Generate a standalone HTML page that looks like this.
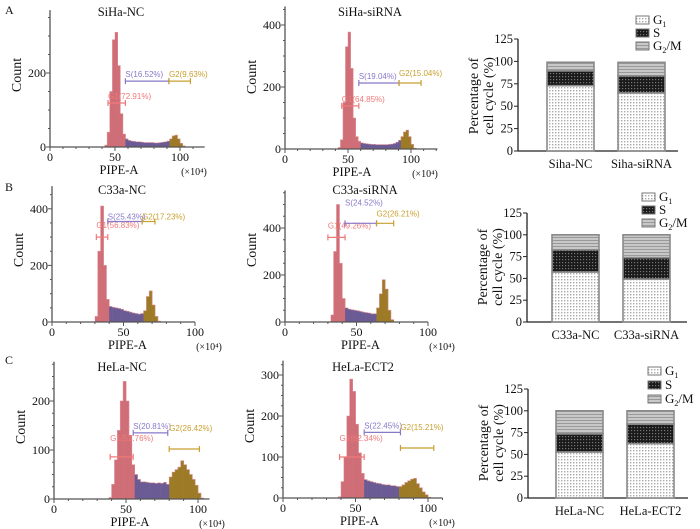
<!DOCTYPE html>
<html><head><meta charset="utf-8">
<style>
html,body{margin:0;padding:0;background:#fff;}
svg{display:block;}
text{font-family:"Liberation Serif",serif;fill:#111;}
.g{font-family:"Liberation Sans",sans-serif;font-size:8px;}
</style></head>
<body>
<svg id="fig" width="700" height="529" viewBox="0 0 700 529" xmlns="http://www.w3.org/2000/svg">
<defs>
<pattern id="patG1" width="3" height="3" patternUnits="userSpaceOnUse"><rect width="3" height="3" fill="#fff"/><rect x="0" y="0" width="1.4" height="1.4" fill="#aaa"/></pattern>
<pattern id="patS" width="3" height="3" patternUnits="userSpaceOnUse"><rect width="3" height="3" fill="#1a1a1a"/><rect x="1" y="1" width="1.2" height="1.2" fill="#777"/></pattern>
<pattern id="patG2" width="3" height="3" patternUnits="userSpaceOnUse"><rect width="3" height="3" fill="#c8c8c8"/><rect y="0" width="3" height="1" fill="#999"/></pattern>
</defs>
</svg>
<script>
// ---------- histogram data (bin width 2, x in ×10^4) ----------
const a1Start = 42;
const a1Counts = [5,40,150,290,310,220,90,35,22,18,16,15,14,14,13,12,12,12,12,11,11,12,13,14,16,22,30,32,22,10,3];
const a2Start = 42;
const a2Counts = [5,30,150,330,377,260,100,40,25,20,18,17,16,15,15,14,14,14,14,14,15,16,18,22,28,40,55,61,40,15,3];
const b1Start = 30;
const b1Counts = [20,250,410,200,80,55,52,50,48,45,40,38,35,32,30,28,30,40,90,110,60,20,3];
const b2Start = 32;
const b2Counts = [30,300,500,250,100,60,55,52,50,48,45,42,40,38,35,35,60,120,180,140,50,10];
const c1Start = 38;
const c1Counts = [3,30,80,140,200,240,200,130,70,50,40,35,35,34,33,33,32,33,32,34,30,45,55,60,65,78,70,60,50,40,28,12,2];
const c2Start = 38;
const c2Counts = [3,40,100,200,290,260,180,110,60,45,42,40,38,36,35,33,32,32,30,30,28,28,32,38,42,46,48,35,25,15,8,2];
// ---------- bar chart data (%) ----------
const barCatsA = ['Siha-NC','Siha-siRNA'];
const g1A = [72.91,64.85]; const sA = [16.52,19.04]; const g2A = [9.63,15.04];
const barCatsB = ['C33a-NC','C33a-siRNA'];
const g1B = [57.34,49.26]; const sB = [25.43,24.52]; const g2B = [17.23,26.21];
const barCatsC = ['HeLa-NC','HeLa-ECT2'];
const g1C = [52.76,62.34]; const sC = [20.81,22.45]; const g2C = [26.42,15.21];
const barTicks = [0,25,50,75,100,125];

const NS='http://www.w3.org/2000/svg';
const svg=document.getElementById('fig');
function mk(tag,attrs,parent,txt){const e=document.createElementNS(NS,tag);for(const k in attrs)e.setAttribute(k,attrs[k]);if(txt!==undefined)e.textContent=txt;(parent||svg).appendChild(e);return e;}

const COL={G1:{f:'#cf6e77',s:'#f08a8a',t:'#f07878'},S:{f:'#6b5b95',s:'#8a7ab8',t:'#8878c8'},G2:{f:'#9c7a26',s:'#c8a040',t:'#c8a030'}};

function hist(cfg,start,counts){
  const g=mk('g',{});
  
  
  const X=v=>cfg.ox+v*cfg.kx, Y=c=>cfg.oy-c*cfg.ky;
  const region=v=>v<cfg.b1?'G1':(v<cfg.b2?'S':'G2');
  counts.forEach((c,i)=>{
    const v=start+i*2;const r=region(v);
    const rc=mk('rect',{x:X(v),y:Y(c),width:2*cfg.kx+0.3,height:cfg.oy-Y(c),fill:COL[r].f},g);
    
    
  });
  let d='';counts.forEach((c,i)=>{const v=start+i*2;d+=(i?'L':'M')+X(v)+','+Y(c)+'L'+X(v+2)+','+Y(c);});
  mk('path',{d:d,fill:'none',stroke:'#e08890','stroke-width':0.7,opacity:0.7},g);
  const top=cfg.oy-cfg.ymax*cfg.ky;
  mk('line',{x1:cfg.ox,y1:top,x2:cfg.ox,y2:cfg.oy,stroke:'#555','stroke-width':1.3},g);
  mk('line',{x1:cfg.ox,y1:cfg.oy,x2:X(cfg.xmax),y2:cfg.oy,stroke:'#555','stroke-width':1.3},g);
  for(let v=0;v<=cfg.xmax;v+=10){mk('line',{x1:X(v),y1:cfg.oy,x2:X(v),y2:cfg.oy+(v%50?2:4),stroke:'#555'},g);}
  [0,50,100].forEach(v=>{const t=mk('text',{x:X(v),y:cfg.oy+14,'font-size':12,'text-anchor':'middle'},g,String(v));});
  for(let c=0;c<=cfg.ymax;c+=cfg.minor){mk('line',{x1:cfg.ox,y1:Y(c),x2:cfg.ox-(c%cfg.major?2:4),y2:Y(c),stroke:'#555'},g);}
  for(let c=0;c<=cfg.ymax;c+=cfg.major){const t=mk('text',{x:cfg.ox-4,y:Y(c)+4,'font-size':12,'text-anchor':'end'},g,String(c));}
  let t=mk('text',{x:cfg.tx,y:cfg.ty,'font-size':12.5,'text-anchor':'middle'},g,cfg.title);
  
  t=mk('text',{x:0,y:0,'font-size':14,'text-anchor':'middle',transform:'translate('+(cfg.ox-29)+','+(cfg.oy-72)+') rotate(-90)'},g,'Count');
  
  t=mk('text',{x:X(50)+4,y:cfg.oy+27,'font-size':12.5,'text-anchor':'middle'},g,'PIPE-A');
  
  t=mk('text',{x:X(100)+14,y:cfg.oy+28,'font-size':10,'text-anchor':'middle'},g,'(×10⁴)');
  
  cfg.gates.forEach(gt=>{
    const c=COL[gt.k].t, y=Y(gt.y), x1=X(gt.x1), x2=X(gt.x2);
    const gg=mk('g',{},g);
    
    
    mk('line',{x1:x1,y1:y,x2:x2,y2:y,stroke:c,'stroke-width':1.2},gg);
    mk('line',{x1:x1,y1:y-3,x2:x1,y2:y+3,stroke:c,'stroke-width':1.2},gg);
    mk('line',{x1:x2,y1:y-3,x2:x2,y2:y+3,stroke:c,'stroke-width':1.2},gg);
    mk('text',{x:x1+(gt.dx||0),y:y-4-(gt.dy||0),'class':'g',style:'fill:'+c},gg,gt.label);
  });
}

hist({name:'histogram-siha-nc',title:'SiHa-NC',tx:121,ty:16,ox:50,oy:147,kx:1.3,ky:0.37,ymax:370,xmax:119,major:200,minor:50,b1:58,b2:92,
  gates:[{k:'G1',y:119,x1:44.6,x2:58,label:'G1(72.91%)'},{k:'S',y:178,x1:58,x2:91.5,label:'S(16.52%)'},{k:'G2',y:178,x1:91.5,x2:108,label:'G2(9.63%)'}]},a1Start,a1Counts);
hist({name:'histogram-siha-sirna',title:'SiHa-siRNA',tx:370,ty:16,ox:285,oy:149,kx:1.26,ky:0.31,ymax:460,xmax:121,major:200,minor:50,b1:58.6,b2:90.5,
  gates:[{k:'G1',y:139,x1:45,x2:58.6,label:'G1(64.85%)'},{k:'S',y:213,x1:58.6,x2:90.5,label:'S(19.04%)'},{k:'G2',y:213,x1:90.5,x2:108,label:'G2(15.04%)',dy:3}]},a2Start,a2Counts);
hist({name:'histogram-c33a-nc',title:'C33a-NC',tx:122,ty:194,ox:52,oy:322,kx:1.43,ky:0.283,ymax:480,xmax:100,major:200,minor:50,b1:40,b2:64,
  gates:[{k:'G1',y:300,x1:31,x2:39,label:'G1(56.83%)',dy:5},{k:'S',y:355,x1:39,x2:63,label:'S(25.43%)',dy:-2},{k:'G2',y:355,x1:63,x2:72,label:'G2(17.23%)',dy:-2}]},b1Start,b1Counts);
hist({name:'histogram-c33a-sirna',title:'C33a-siRNA',tx:365,ty:194,ox:285,oy:322,kx:1.43,ky:0.235,ymax:560,xmax:100,major:200,minor:50,b1:42,b2:64,
  gates:[{k:'G1',y:360,x1:30,x2:42,label:'G1(49.26%)',dy:5},{k:'S',y:420,x1:42,x2:64,label:'S(24.52%)',dy:14},{k:'G2',y:420,x1:64,x2:76,label:'G2(26.21%)',dy:3}]},b2Start,b2Counts);
hist({name:'histogram-hela-nc',title:'HeLa-NC',tx:122,ty:371,ox:54,oy:499,kx:1.44,ky:0.49,ymax:280,xmax:108,major:100,minor:25,b1:56,b2:80,
  gates:[{k:'G1',y:86,x1:39,x2:55,label:'G1(52.76%)',dy:12},{k:'S',y:135,x1:55,x2:79,label:'S(20.81%)'},{k:'G2',y:102,x1:80,x2:101,label:'G2(26.42%)',dy:14}]},c1Start,c1Counts);
hist({name:'histogram-hela-ect2',title:'HeLa-ECT2',tx:363,ty:371,ox:283,oy:498,kx:1.45,ky:0.41,ymax:335,xmax:110,major:100,minor:25,b1:56,b2:80,
  gates:[{k:'G1',y:100,x1:39,x2:56,label:'G1(62.34%)',dy:12},{k:'S',y:160,x1:56,x2:81,label:'S(22.45%)'},{k:'G2',y:122,x1:81,x2:104,label:'G2(15.21%)',dy:14}]},c2Start,c2Counts);

function bars(cfg,cats,g1,s,g2){
  const g=mk('g',{});
  
  
  const Y=p=>cfg.oy-p*cfg.ky;
  mk('line',{x1:cfg.ox,y1:Y(125),x2:cfg.ox,y2:cfg.oy,stroke:'#222','stroke-width':1.3},g);
  mk('line',{x1:cfg.ox,y1:cfg.oy,x2:cfg.ox+160,y2:cfg.oy,stroke:'#222','stroke-width':1.3},g);
  barTicks.forEach(v=>{mk('line',{x1:cfg.ox-4,y1:Y(v),x2:cfg.ox,y2:Y(v),stroke:'#222'},g);
    const t=mk('text',{x:cfg.ox-5,y:Y(v)+4,'font-size':12.5,'text-anchor':'end'},g,String(v));
    });
  let t=mk('text',{x:0,y:0,'font-size':14,'text-anchor':'middle',transform:'translate('+(cfg.ox-40)+','+(cfg.oy-55)+') rotate(-90)'},g,'Percentage of');
  
  t=mk('text',{x:0,y:0,'font-size':14,'text-anchor':'middle',transform:'translate('+(cfg.ox-25)+','+(cfg.oy-55)+') rotate(-90)'},g,'cell cycle (%)');
  
  cats.forEach((c,i)=>{
    const x=cfg.ox+cfg.off+i*71, w=47;
    let base=0;
    [[g1[i],'patG1','g1'],[s[i],'patS','s'],[g2[i],'patG2','g2m']].forEach(([v,p,n])=>{
      const r=mk('rect',{x:x,y:Y(base+v),width:w,height:v*cfg.ky,fill:'url(#'+p+')',stroke:'#8a8a8a','stroke-width':1.6},g);
      
      
      base+=v;});
    const tl=mk('text',{x:x+w/2,y:cfg.oy+17,'font-size':12.5,'text-anchor':'middle'},g,c);
    
  });
  const legs=[['patG1','G','1'],['patS','S',''],['patG2','G','2/M']];
  legs.forEach((L,j)=>{
    const y=cfg.ly+j*cfg.lg;
    const lg=mk('g',{},g);
    
    
    mk('rect',{x:cfg.lx,y:y-4,width:13,height:8,fill:'url(#'+L[0]+')',stroke:'#777','stroke-width':1},lg);
    const tx=mk('text',{x:cfg.lx+17,y:y+4,'font-size':13},lg,L[1]);
    if(L[2]){
      if(L[2]==='1'){mk('tspan',{'font-size':8,dy:3},tx,'1');}
      else{mk('tspan',{'font-size':8,dy:3},tx,'2');mk('tspan',{dy:-3},tx,'/M');}
    }
  });
}
bars({name:'bar-chart-siha',ox:518,oy:151,ky:0.896,off:29,lx:636,ly:20,lg:13},barCatsA,g1A,sA,g2A);
bars({name:'bar-chart-c33a',ox:527,oy:322,ky:0.872,off:25,lx:642,ly:197,lg:13},barCatsB,g1B,sB,g2B);
bars({name:'bar-chart-hela',ox:528,oy:498,ky:0.872,off:28,lx:648,ly:371,lg:14},barCatsC,g1C,sC,g2C);

[['A',5,14],['B',5,191],['C',5,364]].forEach(p=>{const t=mk('text',{x:p[1],y:p[2],'font-size':12},svg,p[0]);
  });
</script>
</body></html>
